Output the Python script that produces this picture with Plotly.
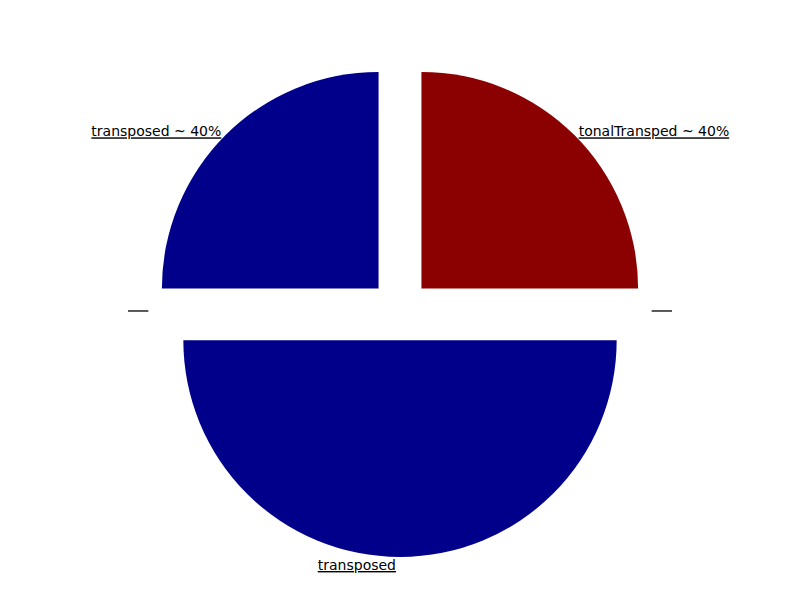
import plotly.graph_objects as go

# data
slice_names = ["tonalTransped", "transposed (lower)", "transposed (upper)"]
slice_values = [25, 50, 25]
slice_text = ["<u>tonalTransped ~ 40%</u>", "<u>transposed</u>", "<u>transposed ~ 40%</u>"]
slice_colors = ["#8B0000", "#00008B", "#00008B"]
slice_pull = [0.14, 0.14, 0.14]

fig = go.Figure(
    go.Pie(
        labels=slice_names,
        values=slice_values,
        text=slice_text,
        textinfo="text",
        textposition="outside",
        sort=False,
        direction="clockwise",
        rotation=0,
        pull=slice_pull,
        automargin=False,
        marker=dict(colors=slice_colors, line=dict(width=0)),
        textfont=dict(family="DejaVu Sans", size=14, color="black"),
        showlegend=False,
        hoverinfo="label+value",
    )
)

fig.update_layout(
    width=800,
    height=600,
    margin=dict(l=0, r=16, t=55, b=51, autoexpand=False),
    paper_bgcolor="white",
    plot_bgcolor="white",
    shapes=[
        dict(type="line", xref="paper", yref="paper", x0=0.153, x1=0.179, y0=0.498, y1=0.498,
             line=dict(color="black", width=1.3)),
        dict(type="line", xref="paper", yref="paper", x0=0.821, x1=0.847, y0=0.498, y1=0.498,
             line=dict(color="black", width=1.3)),
    ],
)

fig.write_html("out.html")
